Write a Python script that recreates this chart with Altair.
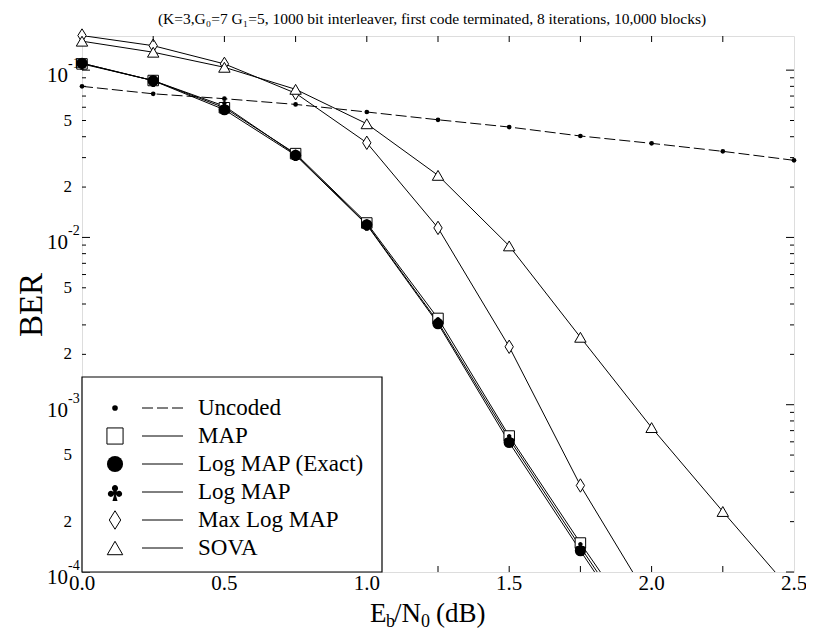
import altair as alt
import pandas as pd

# ---------------- data ----------------
names = ["Uncoded", "MAP", "Log MAP (Exact)", "Log MAP", "Max Log MAP", "SOVA"]
ebno = [0.0, 0.25, 0.5, 0.75, 1.0, 1.25, 1.5, 1.75, 2.0, 2.25, 2.5]

uncoded = [0.080, 0.0722, 0.0675, 0.0624, 0.0562, 0.0505, 0.0457, 0.0404, 0.0365, 0.0327, 0.0289]
map_ber = [0.109, 0.0867, 0.0596, 0.0317, 0.0122, 0.00328, 6.5e-4, 1.49e-4, 3.6e-5]
logmap_exact = [0.110, 0.0865, 0.0580, 0.0310, 0.0119, 0.00305, 5.95e-4, 1.34e-4, 3.1e-5]
logmap = [0.110, 0.0866, 0.0610, 0.0313, 0.0120, 0.00312, 6.25e-4, 1.41e-4, 3.3e-5]
maxlogmap = [0.161, 0.140, 0.109, 0.0728, 0.0368, 0.0114, 0.00222, 3.29e-4, 6.5e-5]
sova = [0.149, 0.128, 0.104, 0.0768, 0.0478, 0.0235, 0.0089, 0.00253, 7.3e-4, 2.30e-4, 7.4e-5]

x_label_values = [0.0, 0.5, 1.0, 1.5, 2.0, 2.5]
x_label_text = ["0.0", "0.5", "1.0", "1.5", "2.0", "2.5"]
x_tick_values = [0.25, 0.5, 0.75, 1.0, 1.25, 1.5, 1.75, 2.0, 2.25]
y_decades = [1e-1, 1e-2, 1e-3, 1e-4]
y_decade_exp = ["-1", "-2", "-3", "-4"]
y_mantissa_vals = [5e-2, 2e-2, 5e-3, 2e-3, 5e-4, 2e-4]
y_mantissa_text = ["5", "2", "5", "2", "5", "2"]
minor_mult = [2, 3, 4, 5, 6, 7, 8, 9]
minor_exp = [-4, -3, -2]

title_text = "(K=3,G\u2080=7 G\u2081=5, 1000 bit interleaver, first code terminated, 8 iterations, 10,000 blocks)"

# ---------------- layout / style ----------------
W, H = 712, 536
YMIN, YMAX = 1e-4, 0.16
FONT = "Liberation Serif"

CLUB = ("M-0.34,-0.42 A0.34,0.34 0 1,1 0.34,-0.42 A0.34,0.34 0 1,1 -0.34,-0.42 Z "
        "M-0.79,0.2 A0.34,0.34 0 1,1 -0.11,0.2 A0.34,0.34 0 1,1 -0.79,0.2 Z "
        "M0.11,0.2 A0.34,0.34 0 1,1 0.79,0.2 A0.34,0.34 0 1,1 0.11,0.2 Z "
        "M0,0 L0.28,1 L-0.28,1 Z M-0.2,-0.2 L0.2,-0.2 L0.2,0.3 L-0.2,0.3 Z")
DIAMOND = "M0,-1 L0.62,0 L0,1 L-0.62,0 Z"

series = {
    "Uncoded": uncoded,
    "MAP": map_ber,
    "Log MAP (Exact)": logmap_exact,
    "Log MAP": logmap,
    "Max Log MAP": maxlogmap,
    "SOVA": sova,
}
style = {
    "Uncoded": dict(shape="circle", size=22, filled=True, lsize=32),
    "MAP": dict(shape="square", size=110, filled=False, lsize=260),
    "Log MAP (Exact)": dict(shape="circle", size=125, filled=True, lsize=260),
    "Log MAP": dict(shape=CLUB, size=170, filled=True, lsize=330),
    "Max Log MAP": dict(shape=DIAMOND, size=180, filled=False, lsize=340),
    "SOVA": dict(shape="triangle-up", size=130, filled=False, lsize=240),
}
DASH = [11, 4]

rows = []
for nm in names:
    for xv, bv in zip(ebno, series[nm]):
        rows.append({"name": nm, "ebno": xv, "ber": bv})
df = pd.DataFrame(rows)

xscale = alt.Scale(domain=[0, 2.5], nice=False, zero=False)
yscale = alt.Scale(type="log", domain=[YMIN, YMAX], nice=False)

X = alt.X("ebno:Q", scale=xscale, axis=None)
Y = alt.Y("ber:Q", scale=yscale, axis=None)


def point_kw(st, size):
    if st["filled"]:
        return dict(shape=st["shape"], size=size, filled=True, fill="black",
                    strokeWidth=0, opacity=1)
    return dict(shape=st["shape"], size=size, filled=True, fill="white",
                stroke="black", strokeWidth=1, opacity=1)


data_layers = []
for nm in names:
    base = alt.Chart(df).transform_filter(alt.datum.name == nm)
    if nm == "Uncoded":
        line = base.mark_line(color="black", strokeWidth=1, clip=True, strokeDash=DASH)
    else:
        line = base.mark_line(color="black", strokeWidth=1, clip=True)
    data_layers.append(line.encode(x=X, y=Y))
for nm in names:
    st = style[nm]
    pts = (alt.Chart(df).transform_filter(alt.datum.name == nm)
           .transform_filter(alt.datum.ber >= YMIN)
           .mark_point(clip=False, **point_kw(st, st["size"]))
           .encode(x=X, y=Y))
    data_layers.append(pts)

# ---------------- ticks (inward) ----------------
minor_vals = [m * 10.0 ** e for e in minor_exp for m in minor_mult]
ymaj = pd.DataFrame({"v": y_decades})
ymin_df = pd.DataFrame({"v": minor_vals})
YV = alt.Y("v:Q", scale=yscale, axis=None)
tick_layers = [
    alt.Chart(ymaj).mark_rule(color="black", strokeWidth=1).encode(y=YV, x=alt.value(0), x2=alt.value(8)),
    alt.Chart(ymaj).mark_rule(color="black", strokeWidth=1).encode(y=YV, x=alt.value(W - 8), x2=alt.value(W)),
    alt.Chart(ymin_df).mark_rule(color="black", strokeWidth=1).encode(y=YV, x=alt.value(0), x2=alt.value(4)),
    alt.Chart(ymin_df).mark_rule(color="black", strokeWidth=1).encode(y=YV, x=alt.value(W - 4), x2=alt.value(W)),
]
xt = pd.DataFrame({"t": x_tick_values})
XT = alt.X("t:Q", scale=xscale, axis=None)
tick_layers += [
    alt.Chart(xt).mark_rule(color="black", strokeWidth=1).encode(x=XT, y=alt.value(H - 6), y2=alt.value(H)),
    alt.Chart(xt).mark_rule(color="black", strokeWidth=1).encode(x=XT, y=alt.value(0), y2=alt.value(6)),
]

# ---------------- tick labels ----------------
dec_df = pd.DataFrame({"v": y_decades, "b": ["10"] * len(y_decades), "e": y_decade_exp})
man_df = pd.DataFrame({"v": y_mantissa_vals, "t": y_mantissa_text})
xl_df = pd.DataFrame({"t": x_label_values, "s": x_label_text})
label_layers = [
    alt.Chart(dec_df).mark_text(font=FONT, fontSize=21, align="right", baseline="middle", dy=6, color="black")
    .encode(y=YV, x=alt.value(-14), text="b:N"),
    alt.Chart(dec_df).mark_text(font=FONT, fontSize=14, align="left", baseline="middle", dy=-6, color="black")
    .encode(y=YV, x=alt.value(-14), text="e:N"),
    alt.Chart(man_df).mark_text(font=FONT, fontSize=17, align="right", baseline="middle", color="black")
    .encode(y=YV, x=alt.value(-10), text="t:N"),
    alt.Chart(xl_df).mark_text(font=FONT, fontSize=21, align="center", baseline="middle", color="black")
    .encode(x=XT, y=alt.value(H + 12), text="s:N"),
]

# ---------------- titles ----------------
one = pd.DataFrame({"a": [0]})


def txt(s, x, y, size, align="left", baseline="alphabetic", angle=0):
    kw = dict(font=FONT, fontSize=size, align=align, baseline=baseline, color="black", text=s)
    if angle:
        kw["angle"] = angle
    return alt.Chart(one).mark_text(**kw).encode(x=alt.value(x), y=alt.value(y))


title_layers = [
    txt(title_text, 350, -17, 15.5, align="center", baseline="middle"),
    txt("BER", -50, 269, 33, align="center", baseline="middle", angle=270),
    txt("E", 288, 586, 27),
    txt("b", 304, 591, 18),
    txt("/N", 312, 586, 27),
    txt("0", 339, 591, 18),
    txt("(dB)", 354, 586, 27),
]

main = alt.layer(*data_layers, *tick_layers, *label_layers, *title_layers)

# ---------------- legend ----------------
leg_df = pd.DataFrame({"name": names})
LY = alt.Y("name:N", scale=alt.Scale(type="point", domain=names, range=[372, 512], padding=0), axis=None)
box = alt.Chart(one).mark_rect(fill="white", stroke="black", strokeWidth=1.2).encode(
    x=alt.value(0), x2=alt.value(300), y=alt.value(341), y2=alt.value(536))
leg_layers = [box]
leg_layers.append(alt.Chart(leg_df).transform_filter(alt.datum.name == "Uncoded")
                  .mark_rule(color="black", strokeWidth=1, strokeDash=DASH)
                  .encode(y=LY, x=alt.value(60), x2=alt.value(101)))
leg_layers.append(alt.Chart(leg_df).transform_filter(alt.datum.name != "Uncoded")
                  .mark_rule(color="black", strokeWidth=1)
                  .encode(y=LY, x=alt.value(60), x2=alt.value(101)))
for nm in names:
    st = style[nm]
    leg_layers.append(alt.Chart(leg_df).transform_filter(alt.datum.name == nm)
                      .mark_point(**point_kw(st, st["lsize"]))
                      .encode(y=LY, x=alt.value(33)))
leg_layers.append(alt.Chart(leg_df).mark_text(font=FONT, fontSize=23, align="left", baseline="middle", color="black")
                  .encode(y=LY, x=alt.value(116), text="name:N"))
legend = alt.layer(*leg_layers)

chart = (alt.layer(main, legend)
         .resolve_scale(x="independent", y="independent")
         .properties(width=W, height=H,
                     autosize=alt.AutoSizeParams(type="none"),
                     padding={"left": 74, "top": 28, "right": 12, "bottom": 70})
         .configure_view(stroke="black", strokeWidth=1.5)
         .configure(background="white"))

chart.save("out.html", embed_options={"renderer": "svg", "actions": False})
